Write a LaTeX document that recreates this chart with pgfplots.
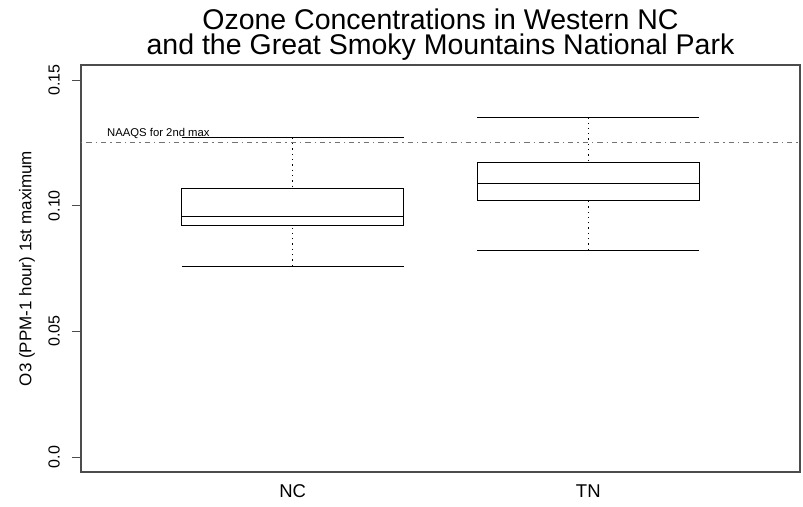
\documentclass[border=0pt]{standalone}
\usepackage{fontspec}
\setmainfont{Liberation Sans}
\usepackage{pgfplots}
\pgfplotsset{compat=1.18}
\usepgfplotslibrary{statistics}
\begin{document}
\begin{tikzpicture}[x=1pt,y=1pt]
\useasboundingbox (0,0) rectangle (803,506);
\begin{axis}[
  at={(81pt,34pt)}, anchor=south west,
  width=719pt, height=407pt, scale only axis,
  xmin=0.284, xmax=2.716, ymin=-0.006, ymax=0.156,
  axis line style={black!70, line width=1.2pt},
  xtick={1,2}, xticklabels={NC,TN},
  ytick={0,0.05,0.10,0.15}, yticklabels={0.0,0.05,0.10,0.15},
  tick pos=left,
  tick align=outside,
  major tick length=9pt,
  xtick style={draw=none},
  ytick style={black!70, line width=0.8pt},
  yticklabel style={rotate=90, anchor=south, inner sep=0pt, font=\fontsize{16}{16}\selectfont},
  yticklabel shift=12pt,
  xticklabel style={anchor=base, inner sep=0pt, font=\fontsize{18.5}{18.5}\selectfont},
  xticklabel shift=16pt,
  ylabel={O3 (PPM-1 hour) 1st maximum},
  every axis y label/.style={at={(axis description cs:-0.0751,0.5)}, rotate=90, anchor=center, font=\fontsize{17}{17}\selectfont},
  clip=false,
  boxplot/draw direction=y,
  boxplot/box extend=0.75,
  boxplot/whisker extend=0.75,
  boxplot/draw/lower whisker/.code={%
    \draw[black, line width=0.8pt, dash pattern=on 1.3pt off 4pt]
      (boxplot box cs:\pgfplotsboxplotvalue{lower whisker},0.5) --
      (boxplot box cs:\pgfplotsboxplotvalue{lower quartile},0.5);
    \draw[black, line width=0.8pt]
      (boxplot whisker cs:\pgfplotsboxplotvalue{lower whisker},0) --
      (boxplot whisker cs:\pgfplotsboxplotvalue{lower whisker},1);
  },
  boxplot/draw/upper whisker/.code={%
    \draw[black, line width=0.8pt, dash pattern=on 1.3pt off 4pt]
      (boxplot box cs:\pgfplotsboxplotvalue{upper whisker},0.5) --
      (boxplot box cs:\pgfplotsboxplotvalue{upper quartile},0.5);
    \draw[black, line width=0.8pt]
      (boxplot whisker cs:\pgfplotsboxplotvalue{upper whisker},0) --
      (boxplot whisker cs:\pgfplotsboxplotvalue{upper whisker},1);
  },
]
\addplot[black, line width=0.8pt, boxplot prepared={draw position=1,
  lower whisker=0.0760, lower quartile=0.0921, median=0.0959,
  upper quartile=0.1069, upper whisker=0.1270}] coordinates {};
\addplot[black, line width=0.8pt, boxplot prepared={draw position=2,
  lower whisker=0.0824, lower quartile=0.1023, median=0.1089,
  upper quartile=0.1171, upper whisker=0.1352}] coordinates {};
\addplot[black!55, line width=0.9pt, dash pattern=on 1.3pt off 4pt on 5.3pt off 4pt]
  coordinates {(0.284,0.125) (2.716,0.125)};
\node[anchor=base west, inner sep=0pt, font=\fontsize{11.3}{12}\selectfont]
  at (axis cs:0.372,0.1275) {NAAQS for 2nd max};
\end{axis}
\node[anchor=base, inner sep=0pt, align=center, font=\fontsize{28.5}{25}\selectfont] at (440.5,451) {Ozone Concentrations in Western NC\\and the Great Smoky Mountains National Park};
\end{tikzpicture}
\end{document}
